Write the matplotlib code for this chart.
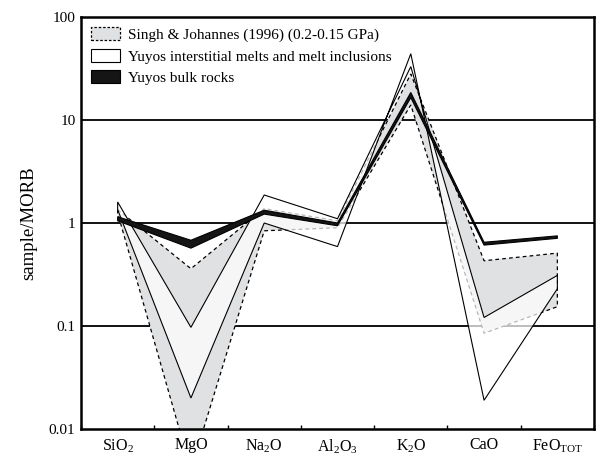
import numpy as np
import matplotlib.pyplot as plt
import matplotlib as mpl
from matplotlib.patches import Patch

# === Setup ===
mpl.rcParams['font.family'] = 'Liberation Serif'
mpl.rcParams['mathtext.fontset'] = 'custom'
mpl.rcParams['mathtext.rm'] = 'Liberation Serif'
mpl.rcParams['mathtext.it'] = 'Liberation Serif:italic'
mpl.rcParams['xtick.direction'] = 'in'
mpl.rcParams['ytick.direction'] = 'in'

# === Data (sample/MORB) ===
oxides = [r'SiO$_2$', 'MgO', r'Na$_2$O', r'Al$_2$O$_3$', r'K$_2$O', 'CaO',
          r'FeO$_{\mathrm{TOT}}$']

singh_upper = [1.35, 0.36, 1.38, 1.05, 28, 0.43, 0.51]
singh_lower = [1.25, 0.004, 0.84, 0.90, 14, 0.085, 0.154]

melt_a = [1.6, 0.097, 1.87, 1.10, 33, 0.121, 0.31]
melt_b = [1.35, 0.020, 1.00, 0.59, 44, 0.019, 0.23]

bulk_upper = [1.15, 0.68, 1.33, 1.00, 18.5, 0.65, 0.75]
bulk_lower = [1.05, 0.57, 1.22, 0.94, 16.5, 0.61, 0.71]

gray = '#e0e1e3'

# === Plotting ===
fig = plt.figure(figsize=(6.01, 4.57), dpi=100)
ax = fig.add_axes([81 / 601, 28 / 457, 513 / 601, 412 / 457])
ax.set_yscale('log')
ax.set_xlim(0.5, 7.5)
ax.set_ylim(0.01, 100)

x = np.arange(1, len(oxides) + 1)
xx = np.r_[x, x[::-1]]

# horizontal decade lines
for v in [0.1, 1, 10]:
    ax.axhline(v, color='black', lw=1.3, zorder=1)

# Singh & Johannes field
yy = np.r_[singh_upper, singh_lower[::-1]]
ax.fill(xx, yy, facecolor=gray, edgecolor='none', zorder=2)
ax.fill(xx, yy, facecolor='none', edgecolor='black', lw=0.9, ls=(0, (3, 2.5)), zorder=3)

# Yuyos interstitial melts field (semi-transparent white)
yy = np.r_[melt_a, melt_b[::-1]]
ax.fill(xx, yy, facecolor='white', alpha=0.72, edgecolor='none', zorder=4)
ax.fill(xx, yy, facecolor='none', edgecolor='black', lw=0.8, zorder=5)

# Yuyos bulk rocks
yy = np.r_[bulk_upper, bulk_lower[::-1]]
ax.fill(xx, yy, facecolor='#151515', edgecolor='black', lw=0.8, zorder=6)

# === Axes ===
ax.set_xticks(np.arange(0.5, 7.6, 1))
ax.set_xticklabels([])
ax.set_xticks(x, minor=True)
ax.set_xticklabels(oxides, minor=True, fontsize=11.5)
ax.tick_params(axis='x', which='minor', length=0, pad=6)
ax.tick_params(axis='x', which='major', length=3, width=1)

ax.set_yticks([0.01, 0.1, 1, 10, 100])
ax.set_yticklabels(['0.01', '0.1', '1', '10', '100'], fontsize=11)
ax.yaxis.set_minor_locator(mpl.ticker.NullLocator())
ax.tick_params(axis='y', length=0, pad=4)
ax.set_ylabel('sample/MORB', fontsize=13.5, labelpad=8)

for s in ax.spines.values():
    s.set_linewidth(1.8)

# === Legend ===
handles = [
    Patch(facecolor=gray, edgecolor='black', lw=0.9, ls=(0, (2, 1.5))),
    Patch(facecolor='white', edgecolor='black', lw=0.8),
    Patch(facecolor='#151515', edgecolor='black', lw=0.8),
]
labels = ['Singh & Johannes (1996) (0.2-0.15 GPa)',
          'Yuyos interstitial melts and melt inclusions',
          'Yuyos bulk rocks']
ax.legend(handles, labels, loc='upper left', bbox_to_anchor=(0.02, 0.975),
          frameon=False, fontsize=11, borderpad=0, borderaxespad=0,
          handlelength=1.9, handleheight=0.9, handletextpad=0.5,
          labelspacing=0.45)

# === Export ===
fig.savefig('out.png', dpi=100)
